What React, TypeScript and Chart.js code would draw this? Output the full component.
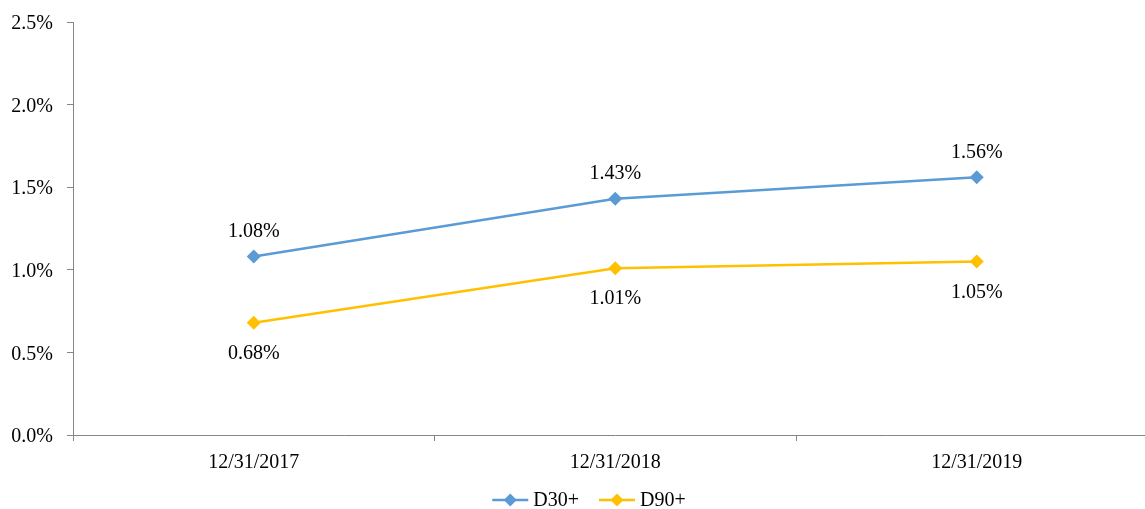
import React, { useEffect, useRef } from "react";
import { Chart, registerables } from "chart.js";

Chart.register(...registerables);

const categories = ["12/31/2017", "12/31/2018", "12/31/2019"];
const d30 = [1.08, 1.43, 1.56];
const d90 = [0.68, 1.01, 1.05];
const seriesNames = ["D30+", "D90+"];
const seriesColors = ["#5B9BD5", "#FFC000"];

const FONT_FAMILY = "'Liberation Serif', 'Times New Roman', serif";
const FONT_SIZE = 20;
const AXIS_COLOR = "#868686";

const labelPlugin = {
  id: "valueLabels",
  afterDatasetsDraw(chart: any) {
    const ctx = chart.ctx;
    ctx.save();
    ctx.font = `${FONT_SIZE}px ${FONT_FAMILY}`;
    ctx.fillStyle = "#000";
    ctx.textAlign = "center";
    ctx.textBaseline = "middle";
    chart.data.datasets.forEach((ds: any, i: number) => {
      const meta = chart.getDatasetMeta(i);
      meta.data.forEach((pt: any, j: number) => {
        const v = ds.data[j] as number;
        const y = i === 0 ? pt.y - 25 : pt.y + 31;
        ctx.fillText(v.toFixed(2) + "%", pt.x, y);
      });
    });
    ctx.restore();
  },
};

const legendPlugin = {
  id: "customLegend",
  afterDraw(chart: any) {
    const ctx = chart.ctx;
    ctx.save();
    ctx.font = `${FONT_SIZE}px ${FONT_FAMILY}`;
    const lineW = 36;
    const gap = 5;
    const itemGap = 20;
    const widths = chart.data.datasets.map(
      (ds: any) => lineW + gap + ctx.measureText(ds.label).width
    );
    const total = widths.reduce((a: number, b: number) => a + b, 0) + itemGap * (widths.length - 1);
    let x = chart.width / 2 - total / 2;
    const y = 500;
    chart.data.datasets.forEach((ds: any, i: number) => {
      const color = ds.borderColor;
      ctx.strokeStyle = color;
      ctx.lineWidth = 2.5;
      ctx.beginPath();
      ctx.moveTo(x, y);
      ctx.lineTo(x + lineW, y);
      ctx.stroke();
      const cx = x + lineW / 2;
      const r = 6.5;
      ctx.fillStyle = color;
      ctx.beginPath();
      ctx.moveTo(cx, y - r);
      ctx.lineTo(cx + r, y);
      ctx.lineTo(cx, y + r);
      ctx.lineTo(cx - r, y);
      ctx.closePath();
      ctx.fill();
      ctx.fillStyle = "#000";
      ctx.textAlign = "left";
      ctx.textBaseline = "middle";
      ctx.fillText(ds.label, x + lineW + gap, y + 1);
      x += widths[i] + itemGap;
    });
    ctx.restore();
  },
};

export default function App() {
  const canvasRef = useRef<HTMLCanvasElement | null>(null);

  useEffect(() => {
    if (!canvasRef.current) return;
    const series = [d30, d90];
    const chart = new Chart(canvasRef.current, {
      type: "line",
      data: {
        labels: categories,
        datasets: series.map((data, i) => ({
          label: seriesNames[i],
          data,
          borderColor: seriesColors[i],
          backgroundColor: seriesColors[i],
          borderWidth: 2.5,
          pointStyle: "rectRot",
          pointRadius: 7,
          pointHoverRadius: 7,
          pointBorderWidth: 0,
          tension: 0,
        })),
      },
      options: {
        responsive: false,
        animation: false,
        layout: { padding: { top: 22, right: 20.5, left: 0, bottom: 0 } },
        plugins: {
          legend: { display: false },
          tooltip: { enabled: false },
        },
        scales: {
          x: {
            type: "category",
            offset: true,
            grid: {
              offset: true,
              drawOnChartArea: false,
              drawTicks: true,
              tickLength: 6,
              color: AXIS_COLOR,
            },
            border: { display: true, color: AXIS_COLOR, width: 1 },
            ticks: {
              padding: 10,
              color: "#000",
              font: { family: FONT_FAMILY, size: FONT_SIZE },
              maxRotation: 0,
            },
            afterFit(scale: any) {
              scale.height = 74;
              scale.paddingLeft = 0;
              scale.paddingRight = 0;
            },
          },
          y: {
            min: 0,
            max: 2.5,
            grid: {
              drawOnChartArea: false,
              drawTicks: true,
              tickLength: 6,
              color: AXIS_COLOR,
            },
            border: { display: true, color: AXIS_COLOR, width: 1 },
            ticks: {
              stepSize: 0.5,
              padding: 14,
              labelOffset: 2,
              color: "#000",
              font: { family: FONT_FAMILY, size: FONT_SIZE },
              callback: (v: any) => Number(v).toFixed(1) + "%",
            },
            afterFit(scale: any) {
              scale.width = 73;
              scale.paddingTop = 0;
              scale.paddingBottom = 0;
            },
          },
        },
      },
      plugins: [labelPlugin, legendPlugin],
    });
    return () => chart.destroy();
  }, []);

  return (
    <div
      style={{
        position: "absolute",
        left: 0,
        top: 0,
        width: 1145,
        height: 509,
        overflow: "hidden",
        background: "#fff",
      }}
    >
      <canvas ref={canvasRef} width={1178} height={509} style={{ display: "block" }} />
    </div>
  );
}
